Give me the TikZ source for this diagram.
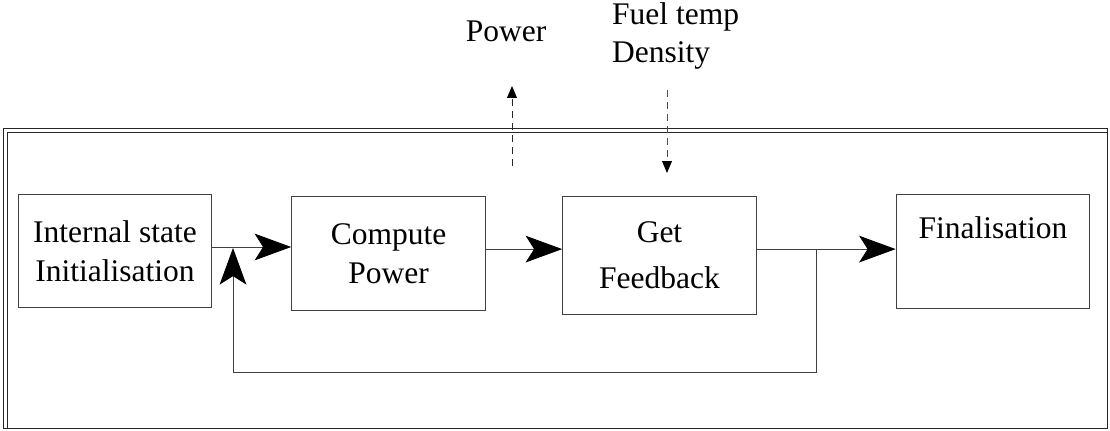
\documentclass[tikz,border=0pt]{standalone}
\usepackage{fontspec}
\setmainfont{Liberation Serif}
\usetikzlibrary{arrows.meta}

\begin{document}
\begin{tikzpicture}[
    x = 0.025cm,
    y = -0.025cm,
    line width = 0.7pt,
    font = \fontsize{22.4}{27.7}\selectfont,
    box/.style = {
      draw = black!75,
      rectangle,
      align = center,
      minimum width = 4.84cm,
      minimum height = 2.83cm
    },
    flow/.style = {
      draw = black!75,
      -{Stealth[length=26pt, width=19pt, inset=6pt, black]}
    },
    signal/.style = {
      dash pattern = on 5pt off 3.5pt,
      -{Triangle[length=8.5pt, width=7pt, black]}
    },
    frame/.style = {
      draw = black!85
    }
  ]
  \useasboundingbox (0,0) rectangle (1110,431);

  \draw[frame] (3,128) rectangle (1107,428);
  \draw[frame] (7,428) -- (7,132) -- (1107,132);

  \node[box] (init) at (115,251) {Internal state\\Initialisation};
  \node[box] (compute) at (388.5,253.5) {Compute\\Power};
  \node[box, minimum height = 2.93cm] (feedback) at (659.5,255.5) {Get\\[5pt]Feedback};
  \node[box, inner ysep = 0pt, text height = 1.1cm, text depth = 1.725cm] (final) at (993,251.5) {Finalisation};

  \draw[flow] ([yshift=0.1cm]init.east) -- ([yshift=0.1cm]init.east -| compute.west);
  \draw[flow] ([yshift=0.11cm]compute.east) -- ([yshift=0.11cm]compute.east -| feedback.west);
  \draw[flow] ([yshift=0.16cm]feedback.east) -- ([yshift=0.16cm]feedback.east -| final.west);

  % feedback loop
  \coordinate (split) at (816,249);
  \coordinate (back) at (233,372);
  \coordinate (join) at (233,248);
  \draw[flow] (split) |- (back) -- (join);

  % outside signals
  \node[anchor = base] (power) at (506,42) {Power};
  \coordinate (pwrin) at (512,166);
  \coordinate (pwrout) at (512,86);
  \draw[signal, black!85] (pwrin) -- (pwrout);

  \node[anchor = base west, align = left] (fuel) at (607,63) {Fuel temp\\Density};
  \coordinate (fuelout) at (667,90);
  \coordinate (fuelin) at (667,173);
  \draw[signal, black!70] (fuelout) -- (fuelin);

\end{tikzpicture}
\end{document}
